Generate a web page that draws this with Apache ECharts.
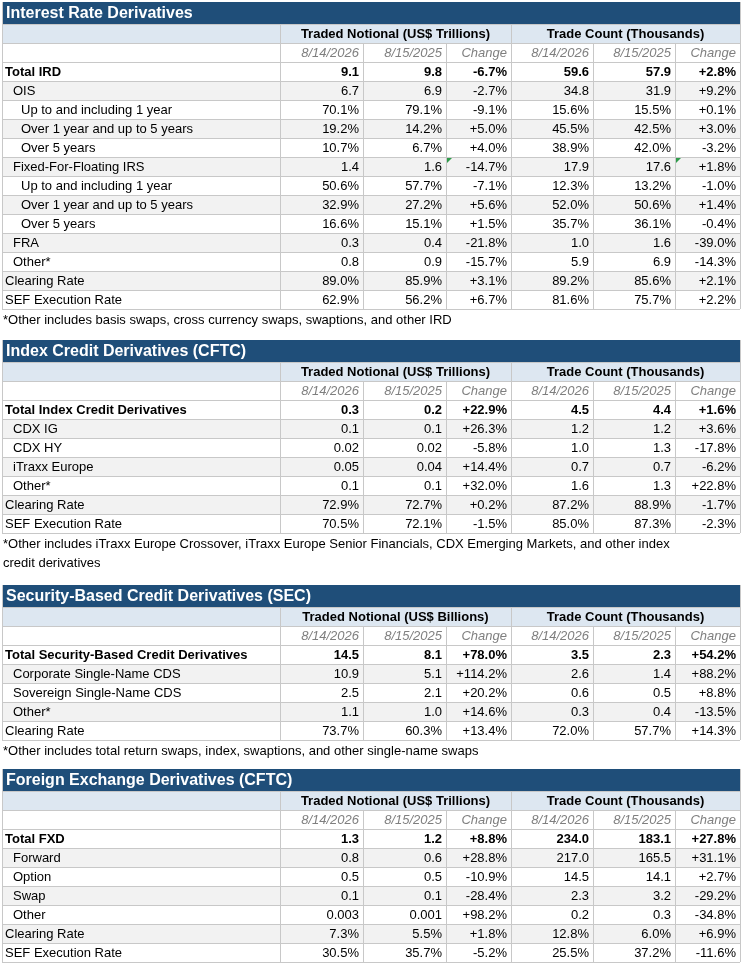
<!DOCTYPE html>
<html>
<head>
<meta charset="utf-8">
<script src="https://cdn.jsdelivr.net/npm/echarts@6/dist/echarts.min.js"></script>
<style>
  html, body { margin: 0; padding: 0; background: #fff; }
  #main { width: 744px; height: 966px; }
</style>
</head>
<body>
<div id="main"></div>
<script>
// ---- data ----
var dateLabels = ['8/14/2026', '8/15/2025', 'Change'];

var irdTitle = 'Interest Rate Derivatives';
var irdGroups = ['Traded Notional (US$ Trillions)', 'Trade Count (Thousands)'];
var irdLabels = ['Total IRD', 'OIS', 'Up to and including 1 year', 'Over 1 year and up to 5 years', 'Over 5 years',
  'Fixed-For-Floating IRS', 'Up to and including 1 year', 'Over 1 year and up to 5 years', 'Over 5 years',
  'FRA', 'Other*', 'Clearing Rate', 'SEF Execution Rate'];
var irdIndent = [0, 1, 2, 2, 2, 1, 2, 2, 2, 1, 1, 0, 0];
var irdValues = [
  ['9.1', '9.8', '-6.7%', '59.6', '57.9', '+2.8%'],
  ['6.7', '6.9', '-2.7%', '34.8', '31.9', '+9.2%'],
  ['70.1%', '79.1%', '-9.1%', '15.6%', '15.5%', '+0.1%'],
  ['19.2%', '14.2%', '+5.0%', '45.5%', '42.5%', '+3.0%'],
  ['10.7%', '6.7%', '+4.0%', '38.9%', '42.0%', '-3.2%'],
  ['1.4', '1.6', '-14.7%', '17.9', '17.6', '+1.8%'],
  ['50.6%', '57.7%', '-7.1%', '12.3%', '13.2%', '-1.0%'],
  ['32.9%', '27.2%', '+5.6%', '52.0%', '50.6%', '+1.4%'],
  ['16.6%', '15.1%', '+1.5%', '35.7%', '36.1%', '-0.4%'],
  ['0.3', '0.4', '-21.8%', '1.0', '1.6', '-39.0%'],
  ['0.8', '0.9', '-15.7%', '5.9', '6.9', '-14.3%'],
  ['89.0%', '85.9%', '+3.1%', '89.2%', '85.6%', '+2.1%'],
  ['62.9%', '56.2%', '+6.7%', '81.6%', '75.7%', '+2.2%']
];
var irdNote = ['*Other includes basis swaps, cross currency swaps, swaptions, and other IRD'];

var icdTitle = 'Index Credit Derivatives (CFTC)';
var icdGroups = ['Traded Notional (US$ Trillions)', 'Trade Count (Thousands)'];
var icdLabels = ['Total Index Credit Derivatives', 'CDX IG', 'CDX HY', 'iTraxx Europe', 'Other*', 'Clearing Rate', 'SEF Execution Rate'];
var icdIndent = [0, 1, 1, 1, 1, 0, 0];
var icdValues = [
  ['0.3', '0.2', '+22.9%', '4.5', '4.4', '+1.6%'],
  ['0.1', '0.1', '+26.3%', '1.2', '1.2', '+3.6%'],
  ['0.02', '0.02', '-5.8%', '1.0', '1.3', '-17.8%'],
  ['0.05', '0.04', '+14.4%', '0.7', '0.7', '-6.2%'],
  ['0.1', '0.1', '+32.0%', '1.6', '1.3', '+22.8%'],
  ['72.9%', '72.7%', '+0.2%', '87.2%', '88.9%', '-1.7%'],
  ['70.5%', '72.1%', '-1.5%', '85.0%', '87.3%', '-2.3%']
];
var icdNote = ['*Other includes iTraxx Europe Crossover, iTraxx Europe Senior Financials, CDX Emerging Markets, and other index',
  'credit derivatives'];

var secTitle = 'Security-Based Credit Derivatives (SEC)';
var secGroups = ['Traded Notional (US$ Billions)', 'Trade Count (Thousands)'];
var secLabels = ['Total Security-Based Credit Derivatives', 'Corporate Single-Name CDS', 'Sovereign Single-Name CDS', 'Other*', 'Clearing Rate'];
var secIndent = [0, 1, 1, 1, 0];
var secValues = [
  ['14.5', '8.1', '+78.0%', '3.5', '2.3', '+54.2%'],
  ['10.9', '5.1', '+114.2%', '2.6', '1.4', '+88.2%'],
  ['2.5', '2.1', '+20.2%', '0.6', '0.5', '+8.8%'],
  ['1.1', '1.0', '+14.6%', '0.3', '0.4', '-13.5%'],
  ['73.7%', '60.3%', '+13.4%', '72.0%', '57.7%', '+14.3%']
];
var secNote = ['*Other includes total return swaps, index, swaptions, and other single-name swaps'];

var fxdTitle = 'Foreign Exchange Derivatives (CFTC)';
var fxdGroups = ['Traded Notional (US$ Trillions)', 'Trade Count (Thousands)'];
var fxdLabels = ['Total FXD', 'Forward', 'Option', 'Swap', 'Other', 'Clearing Rate', 'SEF Execution Rate'];
var fxdIndent = [0, 1, 1, 1, 1, 0, 0];
var fxdValues = [
  ['1.3', '1.2', '+8.8%', '234.0', '183.1', '+27.8%'],
  ['0.8', '0.6', '+28.8%', '217.0', '165.5', '+31.1%'],
  ['0.5', '0.5', '-10.9%', '14.5', '14.1', '+2.7%'],
  ['0.1', '0.1', '-28.4%', '2.3', '3.2', '-29.2%'],
  ['0.003', '0.001', '+98.2%', '0.2', '0.3', '-34.8%'],
  ['7.3%', '5.5%', '+1.8%', '12.8%', '6.0%', '+6.9%'],
  ['30.5%', '35.7%', '-5.2%', '25.5%', '37.2%', '-11.6%']
];
var fxdNote = [];

// ---- layout ----
var FONT = 'Liberation Sans, Arial, sans-serif';
var colEdges = [2, 280, 363, 446, 511, 593, 675, 740];
var ROW = 19;
var g = [];

function txt(s, x, y, opt) {
  opt = opt || {};
  g.push({ type: 'text', silent: true, style: {
    text: s, x: x, y: y, fontFamily: FONT, fontSize: opt.size || 13,
    fontWeight: opt.bold ? 'bold' : 'normal', fontStyle: opt.italic ? 'italic' : 'normal',
    fill: opt.color || '#000', align: opt.align || 'left', verticalAlign: 'middle' } });
}
function rect(x, y, w, h, fill) {
  g.push({ type: 'rect', silent: true, shape: { x: x, y: y, width: w, height: h }, style: { fill: fill } });
}
function line(x1, y1, x2, y2) {
  g.push({ type: 'line', silent: true, shape: { x1: x1, y1: y1, x2: x2, y2: y2 }, style: { stroke: '#c8c8c8', lineWidth: 1 } });
}

function section(top, title, groups, labels, indent, values, notes, marks) {
  var L = colEdges[0], R = colEdges[7];
  rect(L, top, R - L, 22, '#1f4e79');
  txt(title, L + 4, top + 12, { size: 16, bold: true, color: '#fff' });
  var y = top + 22;
  rect(L, y, R - L, ROW, '#dde7f1');
  txt(groups[0], (colEdges[1] + colEdges[4]) / 2, y + 10, { bold: true, align: 'center' });
  txt(groups[1], (colEdges[4] + colEdges[7]) / 2, y + 10, { bold: true, align: 'center' });
  var yh2 = y + ROW;
  for (var c = 0; c < 6; c++) {
    txt(dateLabels[c % 3], colEdges[c + 2] - 4, yh2 + 10, { italic: true, color: '#7f7f7f', align: 'right' });
  }
  var y0 = yh2 + ROW;
  for (var r = 0; r < labels.length; r++) {
    var ry = y0 + r * ROW;
    if (r % 2 === 1) rect(L, ry, R - L, ROW, '#f2f2f2');
    var bold = r === 0;
    txt(labels[r], L + 3 + indent[r] * 8, ry + 10, { bold: bold });
    for (var k = 0; k < 6; k++) {
      txt(values[r][k], colEdges[k + 2] - 4, ry + 10, { bold: bold, align: 'right' });
    }
  }
  var bottom = y0 + labels.length * ROW;
  // grid
  for (var yy = top + 22; yy <= bottom; yy += ROW) line(L, yy + 0.5, R, yy + 0.5);
  line(L + 0.5, top, L + 0.5, bottom); line(R + 0.5, top, R + 0.5, bottom);
  [1, 4].forEach(function (i) { line(colEdges[i] + 0.5, top + 22, colEdges[i] + 0.5, bottom); });
  [2, 3, 5, 6].forEach(function (i) { line(colEdges[i] + 0.5, yh2, colEdges[i] + 0.5, bottom); });
  (marks || []).forEach(function (m) {
    var mx = colEdges[m[1] + 1] + 1, my = y0 + m[0] * ROW + 1;
    g.push({ type: 'polygon', silent: true, shape: { points: [[mx, my], [mx + 5, my], [mx, my + 5]] }, style: { fill: '#2e9b4a' } });
  });
  notes.forEach(function (n, i) { txt(n, L + 1, bottom + 11 + i * 19); });
}

section(2, irdTitle, irdGroups, irdLabels, irdIndent, irdValues, irdNote, [[5, 2], [5, 5]]);
section(340, icdTitle, icdGroups, icdLabels, icdIndent, icdValues, icdNote);
section(585, secTitle, secGroups, secLabels, secIndent, secValues, secNote);
section(769, fxdTitle, fxdGroups, fxdLabels, fxdIndent, fxdValues, fxdNote);

var chart = echarts.init(document.getElementById('main'));
chart.setOption({ animation: false, graphic: { elements: g } });
window.onresize = function () { chart.resize(); };
</script>
</body>
</html>
